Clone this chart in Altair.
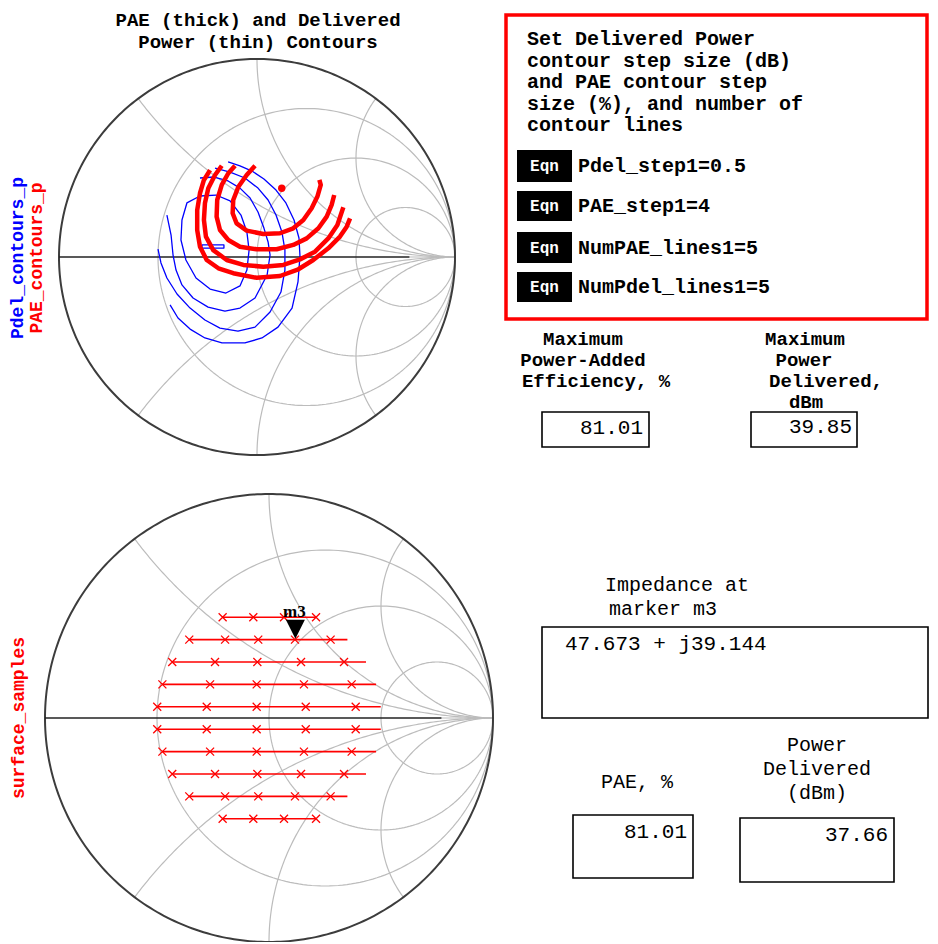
import numpy as np
import pandas as pd
import altair as alt

# ------------------------------------------------------------------
# Data
# ------------------------------------------------------------------
# Smith chart grid (normalised resistance circles / reactance arcs)
R_CIRCLES = [1 / 3, 1.0, 3.0]
X_ARCS = [0.5, 1.0, 2.0, -0.5, -1.0, -2.0]
AXIS_DARK_END = 0.77

# PAE contours (thick, red) as reflection coefficient points (re, im)
PAE_CONTOUR_1 = [(-0.010, 0.461), (-0.052, 0.414), (-0.094, 0.355), (-0.120, 0.288), (-0.123, 0.221),
                 (-0.103, 0.170), (-0.052, 0.133), (0.032, 0.116), (0.116, 0.120), (0.183, 0.145),
                 (0.234, 0.187), (0.276, 0.246), (0.305, 0.305), (0.322, 0.364), (0.315, 0.389)]
PAE_CONTOUR_2 = [(-0.111, 0.461), (-0.145, 0.423), (-0.178, 0.364), (-0.201, 0.288), (-0.204, 0.204),
                 (-0.187, 0.136), (-0.145, 0.086), (-0.086, 0.052), (-0.002, 0.039), (0.099, 0.039),
                 (0.183, 0.061), (0.251, 0.094), (0.310, 0.145), (0.352, 0.204), (0.377, 0.263),
                 (0.390, 0.313)]
PAE_CONTOUR_3 = [(-0.178, 0.461), (-0.212, 0.414), (-0.246, 0.347), (-0.263, 0.271), (-0.268, 0.187),
                 (-0.258, 0.103), (-0.221, 0.035), (-0.153, -0.015), (-0.069, -0.040), (0.032, -0.049),
                 (0.133, -0.040), (0.217, -0.012), (0.293, 0.027), (0.360, 0.094), (0.406, 0.162),
                 (0.436, 0.251)]
PAE_CONTOUR_4 = [(-0.237, 0.439), (-0.268, 0.389), (-0.288, 0.322), (-0.302, 0.237), (-0.302, 0.136),
                 (-0.288, 0.052), (-0.254, -0.015), (-0.195, -0.057), (-0.120, -0.082), (-0.002, -0.105),
                 (0.116, -0.096), (0.209, -0.062), (0.284, -0.015), (0.360, 0.044), (0.419, 0.103),
                 (0.453, 0.153), (0.470, 0.195)]
PAE_MAX_POINT = (0.125, 0.347)

# Delivered power contours (thin, blue)
PDEL_CONTOUR_1 = [(-0.278, 0.061), (-0.167, 0.061), (-0.167, 0.045), (-0.278, 0.045), (-0.278, 0.061)]
PDEL_CONTOUR_2 = [(-0.288, 0.308), (-0.354, 0.273), (-0.379, 0.187), (-0.384, 0.086), (-0.359, -0.015),
                  (-0.308, -0.106), (-0.237, -0.162), (-0.157, -0.182), (-0.086, -0.146), (-0.051, -0.066),
                  (-0.040, 0.035), (-0.051, 0.126), (-0.081, 0.212), (-0.136, 0.283), (-0.207, 0.313),
                  (-0.288, 0.308)]
PDEL_CONTOUR_3 = [(-0.288, 0.399), (-0.217, 0.404), (-0.146, 0.384), (-0.086, 0.348), (-0.035, 0.298),
                  (0.005, 0.227), (0.035, 0.146), (0.056, 0.076), (0.066, 0.010), (0.051, -0.091),
                  (-0.010, -0.207), (-0.086, -0.258), (-0.162, -0.273), (-0.247, -0.253), (-0.323, -0.207),
                  (-0.379, -0.141), (-0.409, -0.066), (-0.424, 0.010), (-0.434, 0.111), (-0.455, 0.212)]
PDEL_CONTOUR_4 = [(-0.212, 0.449), (-0.136, 0.429), (-0.061, 0.399), (0.005, 0.348), (0.056, 0.288),
                  (0.096, 0.212), (0.126, 0.126), (0.141, 0.035), (0.141, -0.066), (0.121, -0.177),
                  (0.066, -0.278), (-0.010, -0.354), (-0.096, -0.374), (-0.187, -0.359), (-0.263, -0.318),
                  (-0.338, -0.258), (-0.404, -0.187), (-0.455, -0.106), (-0.485, -0.030), (-0.500, 0.040)]
PDEL_CONTOUR_5 = [(-0.146, 0.480), (-0.086, 0.460), (-0.025, 0.434), (0.035, 0.394), (0.096, 0.338),
                  (0.146, 0.273), (0.187, 0.187), (0.212, 0.096), (0.217, 0.005), (0.207, -0.126),
                  (0.177, -0.258), (0.106, -0.354), (0.025, -0.409), (-0.061, -0.434), (-0.177, -0.434),
                  (-0.263, -0.409), (-0.338, -0.364), (-0.399, -0.308), (-0.439, -0.242)]

# Load-pull surface samples: rows of constant Im(gamma)
SAMPLE_ROW_IM = [0.45, 0.35, 0.25, 0.15, 0.05, -0.05, -0.15, -0.25, -0.35, -0.45]
SAMPLE_ROW_RE = [
    [-0.207, -0.070, 0.067, 0.210],
    [-0.356, -0.196, -0.048, 0.116, 0.275],
    [-0.432, -0.241, -0.052, 0.143, 0.335],
    [-0.476, -0.263, -0.055, 0.156, 0.369],
    [-0.499, -0.278, -0.055, 0.164, 0.387],
    [-0.499, -0.278, -0.055, 0.164, 0.387],
    [-0.476, -0.263, -0.055, 0.156, 0.369],
    [-0.432, -0.241, -0.052, 0.143, 0.335],
    [-0.356, -0.196, -0.048, 0.116, 0.275],
    [-0.207, -0.070, 0.067, 0.210],
]
SAMPLE_ROW_END = [0.210, 0.350, 0.433, 0.478, 0.499, 0.499, 0.478, 0.433, 0.350, 0.210]

# Marker m3 and results
MARKER_NAME = "m3"
Z0 = 50.0
Z_RE, Z_IM = 47.673, 39.144
MAX_PAE_VALUE = 81.01
MAX_PDEL_VALUE = 39.85
PAE_AT_MARKER = 81.01
PDEL_AT_MARKER = 37.66

# Text
TITLE_LINES = ["PAE (thick) and Delivered", "Power (thin) Contours"]
YLABEL_PDEL = "Pdel_contours_p"
YLABEL_PAE = "PAE_contours_p"
YLABEL_SAMPLES = "surface_samples"
NOTE_LINES = ["Set Delivered Power", "contour step size (dB)", "and PAE contour step",
              "size (%), and number of", "contour lines"]
EQN_TAG = "Eqn"
EQN_LINES = ["Pdel_step1=0.5", "PAE_step1=4", "NumPAE_lines1=5", "NumPdel_lines1=5"]
MAX_PAE_LABEL = ["Maximum", "Power-Added", "Efficiency, %"]
MAX_PDEL_LABEL = ["Maximum", "Power", "Delivered,", "dBm"]
IMPEDANCE_LABEL = ["Impedance at", "marker m3"]
PAE_LABEL = "PAE, %"
PDEL_LABEL = ["Power", "Delivered", "(dBm)"]

# ------------------------------------------------------------------
# Layout (page pixel units)
# ------------------------------------------------------------------
W, H = 922, 934
TOP = (257.0, 257.0, 198.0)      # centre x, centre y, radius
BOTTOM = (269.0, 718.0, 224.0)
FONT = "Liberation Mono"

xs = alt.Scale(domain=[8, 8 + W], nice=False, zero=False)
ys = alt.Scale(domain=[8, 8 + H], nice=False, zero=False, reverse=True)


def X(f):
    return alt.X(f, type="quantitative", scale=xs, axis=None)


def Y(f):
    return alt.Y(f, type="quantitative", scale=ys, axis=None)


def to_page(chart, re, im):
    cx, cy, R = chart
    return cx + R * np.asarray(re, dtype=float), cy - R * np.asarray(im, dtype=float)


def poly_records(chart, name, pts):
    re = [p[0] for p in pts]
    im = [p[1] for p in pts]
    px, py = to_page(chart, re, im)
    return [dict(g=name, i=i, px=a, py=b) for i, (a, b) in enumerate(zip(px, py))]


def smith_grid(chart, tag):
    rec = []
    t = np.linspace(0, 2 * np.pi, 241)
    for r in R_CIRCLES:
        c = r / (1 + r)
        rad = 1 / (1 + r)
        pts = list(zip(c + rad * np.cos(t), rad * np.sin(t)))
        rec += poly_records(chart, f"{tag}-r{r:.3f}", pts)
    for x in X_ARCS:
        ax = abs(x)
        rad = 1 / ax
        gr = (ax * ax - 1) / (ax * ax + 1)
        gi = 2 * ax / (ax * ax + 1)
        phi1 = np.arctan2(gi - rad, gr - 1)
        if phi1 > -np.pi / 2:
            phi1 -= 2 * np.pi
        phi = np.linspace(-np.pi / 2, phi1, 140)
        re = 1 + rad * np.cos(phi)
        im = rad + rad * np.sin(phi)
        if x < 0:
            im = -im
        rec += poly_records(chart, f"{tag}-x{x}", list(zip(re, im)))
    rec += poly_records(chart, f"{tag}-tail", [(AXIS_DARK_END, 0.0), (1.0, 0.0)])
    return rec


def outer_records(chart, tag):
    t = np.linspace(0, 2 * np.pi, 361)
    return poly_records(chart, f"{tag}-outer", list(zip(np.cos(t), np.sin(t))))


def lines(records, color, width):
    df = pd.DataFrame(records)
    return alt.Chart(df).mark_line(color=color, strokeWidth=width, strokeJoin="round").encode(
        x=X("px"), y=Y("py"), detail="g:N", order="i:Q")


# Smith chart frames
grid = lines(smith_grid(TOP, "t") + smith_grid(BOTTOM, "b"), "#bcbcbc", 1.2)
outer = lines(outer_records(TOP, "t") + outer_records(BOTTOM, "b"), "#3c3c3c", 2)
axis_dark = lines(poly_records(TOP, "ta", [(-1, 0), (AXIS_DARK_END, 0)]) +
                  poly_records(BOTTOM, "ba", [(-1, 0), (AXIS_DARK_END, 0)]), "#222222", 1.6)

# Contours
pdel = lines(poly_records(TOP, "p1", PDEL_CONTOUR_1) + poly_records(TOP, "p2", PDEL_CONTOUR_2) +
             poly_records(TOP, "p3", PDEL_CONTOUR_3) + poly_records(TOP, "p4", PDEL_CONTOUR_4) +
             poly_records(TOP, "p5", PDEL_CONTOUR_5), "#0000ff", 1.3)
pae = lines(poly_records(TOP, "a1", PAE_CONTOUR_1) + poly_records(TOP, "a2", PAE_CONTOUR_2) +
            poly_records(TOP, "a3", PAE_CONTOUR_3) + poly_records(TOP, "a4", PAE_CONTOUR_4),
            "#ff0000", 4.5)
mx, my = to_page(TOP, [PAE_MAX_POINT[0]], [PAE_MAX_POINT[1]])
pae_dot = alt.Chart(pd.DataFrame({"px": mx, "py": my})).mark_point(
    shape="circle", filled=True, color="#ff0000", size=55, opacity=1).encode(x=X("px"), y=Y("py"))

# Surface samples
row_recs, pt_recs = [], []
for k, (im, res, end) in enumerate(zip(SAMPLE_ROW_IM, SAMPLE_ROW_RE, SAMPLE_ROW_END)):
    row_recs += poly_records(BOTTOM, f"s{k}", [(res[0], im), (end, im)])
    px, py = to_page(BOTTOM, res, [im] * len(res))
    pt_recs += [dict(px=a, py=b) for a, b in zip(px, py)]
sample_lines = lines(row_recs, "#ff0000", 1.6)
sample_pts = alt.Chart(pd.DataFrame(pt_recs)).mark_point(
    shape="M-1,-1L1,1M-1,1L1,-1", filled=False, color="#ff0000", size=64, strokeWidth=1.3,
    opacity=1).encode(x=X("px"), y=Y("py"))

# Marker m3 from impedance
zn = complex(Z_RE, Z_IM) / Z0
gam = (zn - 1) / (zn + 1)
gx, gy = to_page(BOTTOM, [gam.real], [gam.imag])
mdf = pd.DataFrame({"px": gx, "py": gy, "name": [MARKER_NAME]})
marker = alt.Chart(mdf).mark_point(shape="M-1,-2L1,-2L0,0Z", filled=True, color="#000000",
                                   size=361, opacity=1).encode(x=X("px"), y=Y("py"))
marker_text = alt.Chart(mdf).mark_text(font="Liberation Serif", fontSize=17, fontWeight="bold",
                                       dy=-27, dx=-1, color="#000000").encode(
    x=X("px"), y=Y("py"), text="name:N")

# Boxes
outline_boxes = pd.DataFrame([
    dict(x=542, x2=649, y=412, y2=447),
    dict(x=751, x2=857, y=412, y2=447),
    dict(x=542, x2=928, y=627, y2=718),
    dict(x=573, x2=693, y=815, y2=878),
    dict(x=740, x2=894, y=818, y2=882),
])
boxes = alt.Chart(outline_boxes).mark_rect(filled=False, color="#000000", strokeWidth=1.6).encode(
    x=X("x"), x2="x2", y=Y("y"), y2="y2")
red_box = alt.Chart(pd.DataFrame([dict(x=506, x2=927, y=15, y2=319)])).mark_rect(
    filled=False, color="#ff0000", strokeWidth=3.5).encode(x=X("x"), x2="x2", y=Y("y"), y2="y2")
eqn_rows_y = [(150, 182), (191, 221), (232, 263), (272, 302)]
eqn_boxes = alt.Chart(pd.DataFrame([dict(x=517, x2=572, y=a, y2=b) for a, b in eqn_rows_y])).mark_rect(
    color="#000000").encode(x=X("x"), x2="x2", y=Y("y"), y2="y2")


def text_layer(items, **mark):
    df = pd.DataFrame(items, columns=["text", "px", "py"])
    base = dict(font=FONT, baseline="middle", color="#000000")
    base.update(mark)
    return alt.Chart(df).mark_text(**base).encode(x=X("px"), y=Y("py"), text="text:N")


eqn_cy = [(a + b) / 2 for a, b in eqn_rows_y]
texts = [
    text_layer([(TITLE_LINES[0], 258, 20), (TITLE_LINES[1], 258, 42)],
               fontSize=19, fontWeight="bold", align="center"),
    text_layer([(YLABEL_PDEL, 18, 258)], fontSize=18, fontWeight="bold", angle=270,
               align="center", color="#0000ff"),
    text_layer([(YLABEL_PAE, 37, 258), (YLABEL_SAMPLES, 19, 718)], fontSize=18, fontWeight="bold",
               angle=270, align="center", color="#ff0000"),
    text_layer([(s, 527, 39 + 21.5 * k) for k, s in enumerate(NOTE_LINES)],
               fontSize=20, fontWeight="bold", align="left"),
    text_layer([(EQN_TAG, 544.5, c) for c in eqn_cy], fontSize=16, fontWeight="bold",
               align="center", color="#ffffff"),
    text_layer([(s, 578, c) for s, c in zip(EQN_LINES, eqn_cy)],
               fontSize=20, fontWeight="bold", align="left"),
    text_layer([(MAX_PAE_LABEL[0], 583, 339), (MAX_PAE_LABEL[1], 583, 360), (MAX_PAE_LABEL[2], 596, 381),
                (MAX_PDEL_LABEL[0], 805, 339), (MAX_PDEL_LABEL[1], 804, 360),
                (MAX_PDEL_LABEL[2], 826, 381), (MAX_PDEL_LABEL[3], 806, 402)],
               fontSize=19, fontWeight="bold", align="center"),
    text_layer([(f"{MAX_PAE_VALUE:.2f}", 643, 428), (f"{MAX_PDEL_VALUE:.2f}", 852, 427),
                (f"{PAE_AT_MARKER:.2f}", 687, 832), (f"{PDEL_AT_MARKER:.2f}", 888, 835)],
               fontSize=21, align="right"),
    text_layer([(f"{Z_RE:.3f} + j{Z_IM:.3f}", 565, 644)], fontSize=21, align="left"),
    text_layer([(IMPEDANCE_LABEL[0], 677, 585), (IMPEDANCE_LABEL[1], 663, 609),
                (PAE_LABEL, 637, 782), (PDEL_LABEL[0], 817, 745), (PDEL_LABEL[1], 817, 769),
                (PDEL_LABEL[2], 817, 793)],
               fontSize=20, align="center"),
]

chart = alt.layer(
    grid, outer, axis_dark, pdel, pae, pae_dot, sample_lines, sample_pts, marker, marker_text,
    boxes, red_box, eqn_boxes, *texts
).properties(
    width=W, height=H, padding=0, autosize=alt.AutoSizeParams(type="none")
).configure_view(strokeWidth=0)

chart.save("out.html", embed_options={"renderer": "svg", "actions": False})
